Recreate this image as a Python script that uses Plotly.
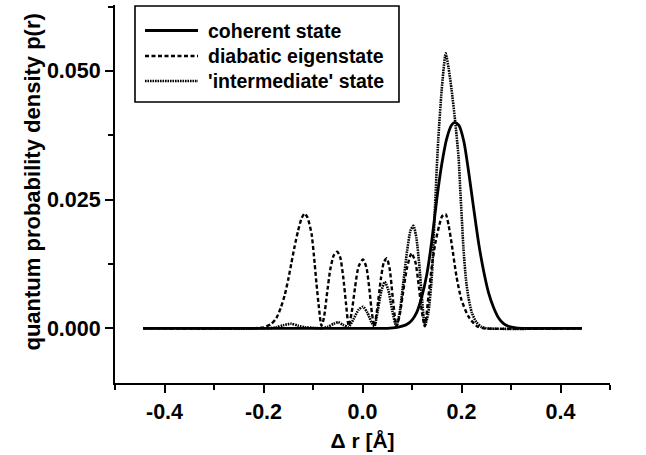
import plotly.graph_objects as go

# ---- data ----
coh_x = [-0.443, 0.0, 0.05, 0.07, 0.09, 0.10, 0.11, 0.12, 0.13, 0.14, 0.15, 0.16, 0.17, 0.18, 0.187,
         0.195, 0.205, 0.215, 0.225, 0.235, 0.245, 0.255, 0.265, 0.275, 0.285, 0.295, 0.31, 0.33, 0.443]
coh_y = [0, 0, 0, 0.0002, 0.0008, 0.0016, 0.0032, 0.0062, 0.0105, 0.0170, 0.0250, 0.0318, 0.0368, 0.0395, 0.0400,
         0.0394, 0.0362, 0.0300, 0.0230, 0.0163, 0.0110, 0.0068, 0.0040, 0.0020, 0.0009, 0.0004, 0.0001, 0, 0]

dia_x = [-0.443, -0.22, -0.20, -0.185, -0.174, -0.165, -0.157, -0.150, -0.144, -0.137, -0.130, -0.123, -0.117,
         -0.111, -0.103, -0.098, -0.093, -0.088, -0.083, -0.078, -0.072, -0.065, -0.058, -0.051, -0.045, -0.039,
         -0.033, -0.028, -0.022, -0.015, -0.008, 0.001, 0.008, 0.014, 0.019, 0.024, 0.030, 0.037, 0.043, 0.049,
         0.055, 0.060, 0.065, 0.069, 0.075, 0.082, 0.090, 0.099, 0.107, 0.114, 0.120, 0.126, 0.133, 0.140, 0.147,
         0.155, 0.161, 0.168, 0.174, 0.180, 0.190, 0.200, 0.214, 0.231, 0.245, 0.443]
dia_y = [0, 0, 0.0002, 0.0008, 0.0020, 0.0040, 0.0065, 0.0095, 0.0125, 0.0160, 0.0190, 0.0214, 0.0223,
         0.0215, 0.0184, 0.0140, 0.0087, 0.0040, 0.0005, 0.0020, 0.0065, 0.0115, 0.0142, 0.0149, 0.0138, 0.0100,
         0.0045, 0.0005, 0.0030, 0.0080, 0.0120, 0.0134, 0.0118, 0.0075, 0.0030, 0.0004, 0.0040, 0.0095, 0.0128, 0.0136,
         0.0115, 0.0070, 0.0025, 0.0004, 0.0025, 0.0070, 0.0118, 0.0146, 0.0128, 0.0080, 0.0032, 0.0004, 0.0060, 0.0120, 0.0165,
         0.0200, 0.0218, 0.0222, 0.0200, 0.0165, 0.0100, 0.0055, 0.0023, 0.0004, 0, 0]

int_x = [-0.443, -0.19, -0.175, -0.160, -0.144, -0.130, -0.115, -0.100, -0.083, -0.070, -0.058, -0.049, -0.040,
         -0.028, -0.018, -0.008, 0.001, 0.010, 0.018, 0.024, 0.031, 0.038, 0.045, 0.052, 0.060, 0.068, 0.075, 0.082,
         0.090, 0.097, 0.103, 0.109, 0.115, 0.120, 0.126, 0.133, 0.140, 0.1466, 0.153, 0.160, 0.168, 0.174, 0.180,
         0.187, 0.194, 0.198, 0.204, 0.209, 0.214, 0.221, 0.230, 0.240, 0.250, 0.443]
int_y = [0, 0, 0.0002, 0.0006, 0.0009, 0.0005, 0.0002, 0.0001, 0, 0.0003, 0.0009, 0.0012, 0.0007,
         0.0003, 0.0018, 0.0036, 0.0042, 0.0030, 0.0012, 0.0004, 0.0035, 0.0072, 0.0090, 0.0075, 0.0035, 0.0004, 0.0030, 0.0085,
         0.0150, 0.0190, 0.0199, 0.0175, 0.0120, 0.0060, 0.0005, 0.0030, 0.0100, 0.0240, 0.0366, 0.0463, 0.0534, 0.0505, 0.0463,
         0.0404, 0.0333, 0.0260, 0.0155, 0.0095, 0.0060, 0.0030, 0.0012, 0.0003, 0, 0]

names = ["coherent state", "diabatic eigenstate", "'intermediate' state"]

x_ticks = [-0.4, -0.2, 0.0, 0.2, 0.4]
y_ticks = [0.0, 0.025, 0.05]

FONT = "Liberation Sans, Arial, Helvetica, sans-serif"
styles = [dict(color="black", width=2.8),
          dict(color="black", width=2.4, dash="4px,2.5px"),
          dict(color="black", width=2.6, dash="1.6px,0.9px")]

fig = go.Figure()
for xs, ys, nm, st in zip([coh_x, dia_x, int_x], [coh_y, dia_y, int_y], names, styles):
    fig.add_trace(go.Scatter(x=xs, y=ys, name=nm, mode="lines",
                             line=dict(shape="spline", smoothing=0.6, **st)))

# hand-built legend box (paper coordinates of the plot area)
row_y = [0.9325, 0.8651, 0.7989]
shapes = [dict(type="rect", xref="paper", yref="paper", x0=0.0404, x1=0.5737, y0=0.7434, y1=0.9974,
               line=dict(color="black", width=1.6), fillcolor="white", layer="above")]
annotations = []
for nm, st, ry in zip(names, styles, row_y):
    shapes.append(dict(type="line", xref="paper", yref="paper", x0=0.0606, x1=0.1677, y0=ry, y1=ry,
                       line=st, layer="above"))
    annotations.append(dict(text=nm, xref="paper", yref="paper", x=0.1838, y=ry, xanchor="left",
                            yanchor="middle", showarrow=False,
                            font=dict(size=19.5, family=FONT, weight="bold", color="black")))

# y-axis title (placed as in the reference, slightly above the axis centre)
annotations.append(dict(text="quantum probability density p(r)", xref="paper", yref="paper",
                        x=-0.1657, y=0.533, xanchor="center", yanchor="middle", textangle=-90,
                        showarrow=False, font=dict(size=22, family=FONT, weight="bold", color="black")))

fig.update_layout(
    width=646, height=455,
    margin=dict(l=115, r=36, t=5, b=72),
    paper_bgcolor="white", plot_bgcolor="white",
    font=dict(family=FONT, color="black", size=21, weight="bold"),
    showlegend=False,
    shapes=shapes, annotations=annotations,
)
fig.update_xaxes(range=[-0.5, 0.5], tickvals=x_ticks, ticktext=[f"{v:.1f}" for v in x_ticks],
                 ticks="outside", ticklen=8, tickwidth=2, tickcolor="black",
                 showline=True, linewidth=2, linecolor="black", showgrid=False, zeroline=False,
                 minor=dict(dtick=0.1, tick0=0, ticks="outside", ticklen=5, tickwidth=2, tickcolor="black", showgrid=False),
                 tickfont=dict(size=21.5, family=FONT, weight="bold"),
                 title=dict(text="Δ r [Å]", font=dict(size=21, family=FONT, weight="bold"), standoff=11))
fig.update_yaxes(range=[-0.01062, 0.0628], tickvals=y_ticks, ticktext=[f"{v:.3f}" for v in y_ticks],
                 ticks="outside", ticklen=8, tickwidth=2, tickcolor="black",
                 showline=True, linewidth=2, linecolor="black", showgrid=False, zeroline=False,
                 minor=dict(dtick=0.0125, tick0=0, ticks="outside", ticklen=5, tickwidth=2, tickcolor="black", showgrid=False),
                 tickfont=dict(size=21.5, family=FONT, weight="bold"))

fig.write_html("out.html", config={"displayModeBar": False},
               post_script="document.body.style.margin='0px';document.body.style.padding='0px';")
